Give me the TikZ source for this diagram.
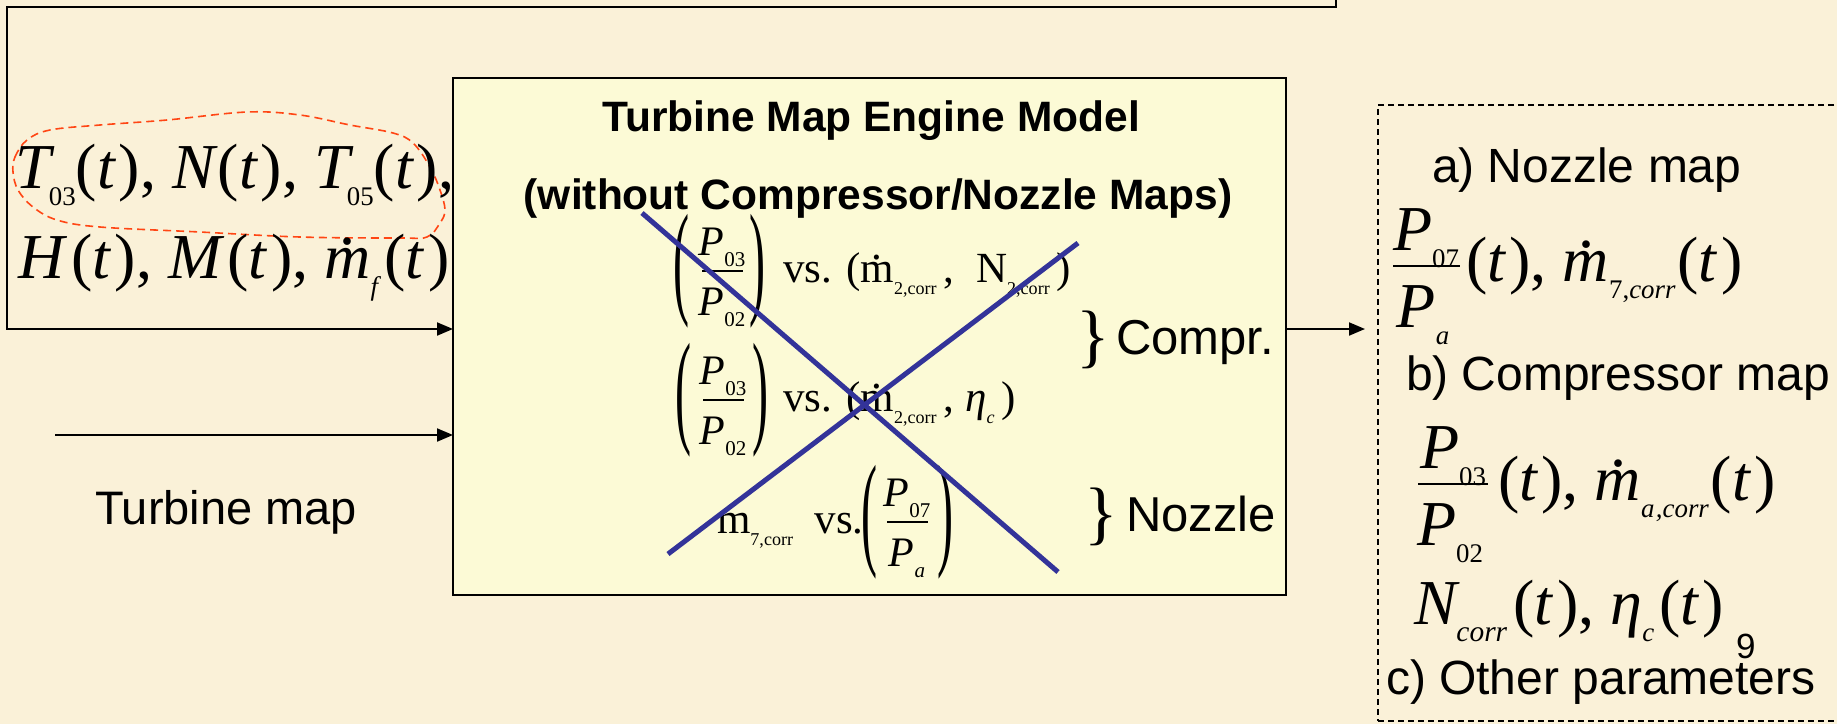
\documentclass[tikz,border=0pt]{standalone}
\usepackage{fontspec}
\setmainfont{Liberation Serif}
\newfontfamily\arial{Liberation Sans}
\usetikzlibrary{arrows.meta}
\definecolor{bgc}{RGB}{250,241,216}
\definecolor{boxc}{RGB}{252,250,214}
\definecolor{xblue}{RGB}{51,51,153}
\definecolor{redc}{RGB}{255,70,20}
\newcommand\ti[1]{\textit{#1}}
\newcommand\lo[2][0.42]{\raisebox{-0.28em}{\scalebox{#1}{#2}}}
\newcommand\md[1]{{\ooalign{#1\cr\hidewidth\raisebox{0.52em}{.}\hidewidth\cr}}}
\begin{document}
\begin{tikzpicture}[x=1pt,y=-1pt,
  every node/.style={inner sep=0pt,outer sep=0pt},
  lab/.style={font=\arial\fontsize{48}{52}\selectfont,anchor=base west},
  ttl/.style={font=\arial\bfseries\fontsize{42.5}{48}\selectfont,anchor=base},
  bigm/.style={font=\fontsize{64}{70}\selectfont,anchor=base west},
  rowf/.style={font=\fontsize{43}{47}\selectfont},
  fracf/.style={font=\fontsize{42}{46}\selectfont,anchor=base},
  par/.style={anchor=center},
  brc/.style={font=\fontsize{70}{70}\selectfont,anchor=center},
  fbar/.style={line width=1.6pt},
  conn/.style={line width=2pt,-{Triangle[length=16pt,width=13pt]}},
  xline/.style={xblue,line width=5pt}]
\useasboundingbox (0,0) rectangle (1837,724);
\fill[bgc] (0,0) rectangle (1837,724);

% main box and output box
\node[draw,line width=2pt,fill=boxc,minimum width=833pt,minimum height=517pt] (eng) at (869.5,336.5) {};
\begin{scope}
\clip (0,0) rectangle (1837,724);
\node[draw,line width=1.4pt,dash pattern=on 6pt off 4pt,minimum width=520pt,minimum height=616pt] (out) at (1638,413) {};
\end{scope}

% connectors
\coordinate (fbA) at (1336,0);
\coordinate (fbB) at (1336,7);
\coordinate (fbC) at (7,7);
\coordinate (fbD) at (7,329);
\draw[conn] (fbA) -- (fbB) -- (fbC) -- (fbD) -- (fbD -| eng.west);
\coordinate (tmS) at (55,435);
\draw[conn] (tmS) -- (tmS -| eng.west);
\draw[conn] (eng.east |- fbD) -- ([xshift=-13pt]out.west |- fbD);

% red dashed outline
\draw[redc,line width=1.6pt,dash pattern=on 8pt off 5pt] plot[smooth cycle,tension=0.6] coordinates
 {(13,172) (15,157) (27,140) (50,130) (100,125) (167,120) (247,112) (300,115) (350,125) (393,133) (413,143) (430,167) (440,190) (445,210) (440,223) (427,237) (400,238) (300,237) (200,232) (100,227) (57,220) (33,207) (18,190)};

% left texts
\node[bigm] (l1) at (16,188) {\ti{T}\kern-.1em\lo{03}(\ti{t}\kern.04em), \ti{N}(\ti{t}\kern.04em), \ti{T}\kern-.1em\lo{05}(\ti{t}\kern.04em),};
\node[bigm] (l2) at (19,278) {\ti{H}\kern.05em(\ti{t}\kern.05em), \ti{M}\kern.05em(\ti{t}\kern.05em), \md{\ti{m}}\lo{\ti{f}}\kern.05em(\ti{t}\kern.05em)};
\node[lab,font=\arial\fontsize{47}{52}\selectfont] (tm) at (95,524) {Turbine map};

% titles
\node[ttl] (t1) at (871,131) {Turbine Map Engine Model};
\node[ttl] (t2) at (878,209) {(without Compressor/Nozzle Maps)};

% row 1
\draw[fbar] (702,271) -- (743,271);
\node[fracf,yshift=16pt] (r1n) at (722,271) {\ti{P}\lo[0.5]{03}};
\node[fracf,yshift=-44pt] (r1d) at (722,271) {\ti{P}\lo[0.5]{02}};
\node[par] (r1l) at (681,271) {\resizebox*{16pt}{114pt}{(}};
\node[par] (r1r) at (757,271) {\resizebox*{16pt}{114pt}{)}};
\node[rowf,anchor=base west] (r1t) at (783,282) {vs. (\md{m}\lo{2,corr}\,,\enspace N\lo{2,corr}\,)};
% row 2
\draw[fbar] (703,400) -- (744,400);
\node[fracf,yshift=16pt] (r2n) at (723,400) {\ti{P}\lo[0.5]{03}};
\node[fracf,yshift=-44pt] (r2d) at (723,400) {\ti{P}\lo[0.5]{02}};
\node[par] (r2l) at (683,400) {\resizebox*{16pt}{114pt}{(}};
\node[par] (r2r) at (760,400) {\resizebox*{16pt}{114pt}{)}};
\node[rowf,anchor=base west] (r2t) at (783,411) {vs. (\md{m}\lo{2,corr}\,, \ti{η}\lo{\ti{c}}\,)};
% row 3
\node[rowf,anchor=base west] (r3t) at (717,533) {m\lo{7,corr}\enspace vs.};
\draw[fbar] (887,522) -- (928,522);
\node[fracf,yshift=16pt] (r3n) at (907,522) {\ti{P}\lo[0.5]{07}};
\node[fracf,yshift=-44pt] (r3d) at (907,522) {\ti{P}\lo[0.5]{\ti{a}}};
\node[par] (r3l) at (869,522) {\resizebox*{16pt}{114pt}{(}};
\node[par] (r3r) at (945,522) {\resizebox*{16pt}{114pt}{)}};

% crossing lines
\draw[xline] (642,213) -- (1058,572);
\draw[xline] (668,554) -- (1078,243);

% braces
\node[brc] (b1) at (1093,340) {\}};
\node[lab,font=\arial\fontsize{49}{52}\selectfont] (compr) at (1116,354) {Compr.};
\node[brc] (b2) at (1101,517) {\}};
\node[lab,font=\arial\fontsize{49}{52}\selectfont] (nozz) at (1126,531) {Nozzle};

% right box
\node[lab] (na) at (1432,182) {a) Nozzle map};
\draw[fbar] (1393,266) -- (1460,266);
\node[bigm,anchor=base,yshift=16pt] (f1n) at (1426,266) {\ti{P}\lo{07}};
\node[bigm,anchor=base,yshift=-61pt] (f1d) at (1423,266) {\ti{P}\lo{\ti{a}}};
\node[bigm] (f1t) at (1466,281) {(\ti{t}\kern.05em), \md{\ti{m}}\lo{7,\ti{corr}}\kern.03em(\ti{t}\kern.05em)};
\node[lab] (nb) at (1406,390) {b) Compressor map};
\draw[fbar] (1418,484) -- (1488,484);
\node[bigm,anchor=base,yshift=16pt] (f2n) at (1453,484) {\ti{P}\lo{03}};
\node[bigm,anchor=base,yshift=-61pt] (f2d) at (1450,484) {\ti{P}\lo{02}};
\node[bigm] (f2t) at (1498,500) {(\ti{t}\kern.05em), \md{\ti{m}}\lo{\ti{a\kern.05em,corr}}\kern.03em(\ti{t}\kern.05em)};
\node[bigm] (f3t) at (1414,624) {\ti{N}\kern-.05em\lo[0.46]{\ti{corr}}\kern.1em(\ti{t}\kern.05em), \ti{η}\lo{\ti{c}}\kern.08em(\ti{t}\kern.05em)};
\node[lab,font=\arial\fontsize{35}{40}\selectfont] (nine) at (1736,658) {9};
\node[lab] (nc) at (1386,694) {c) Other parameters};
\end{tikzpicture}
\end{document}
